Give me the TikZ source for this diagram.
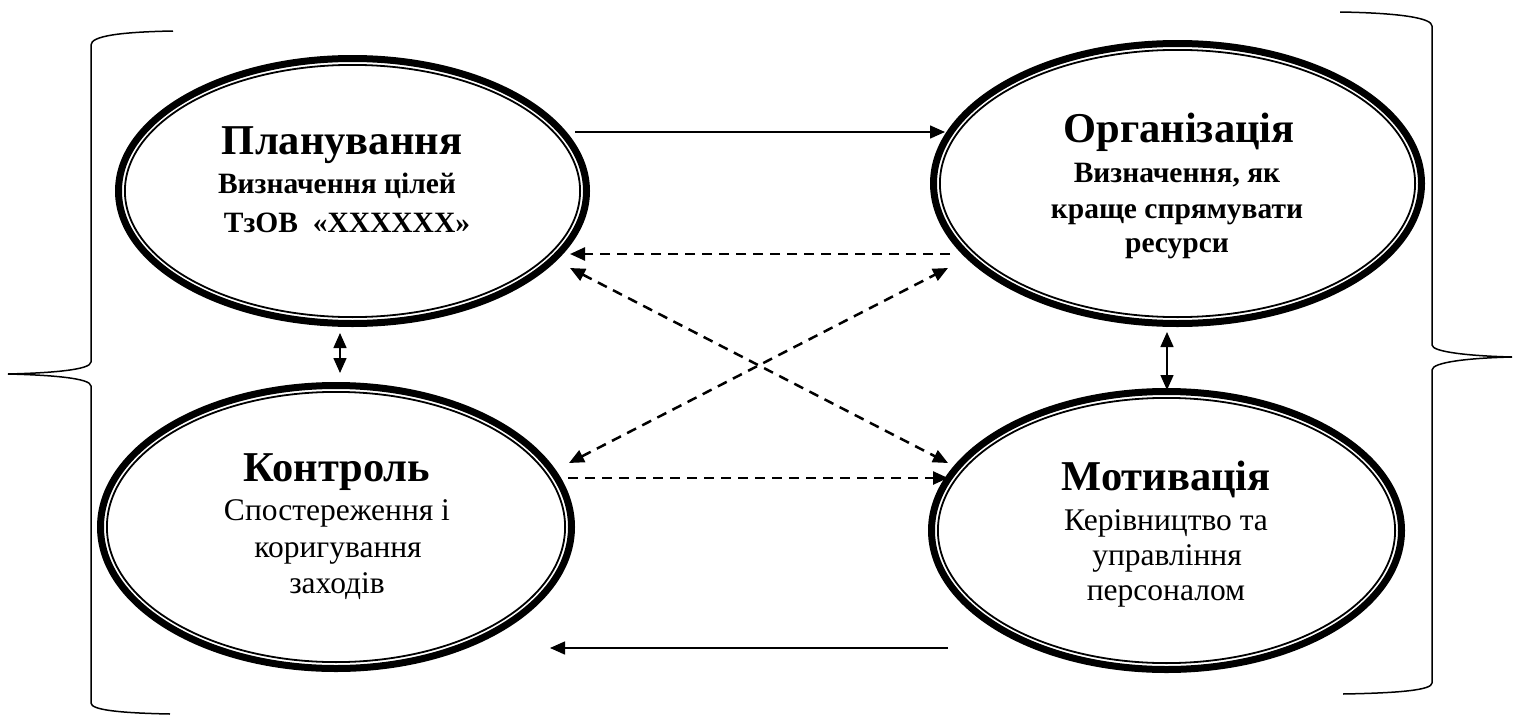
\documentclass[tikz,border=0pt]{standalone}
\usepackage{fontspec}
\setmainfont{Liberation Serif}
\usetikzlibrary{shapes.geometric,arrows.meta}
\begin{document}
\begin{tikzpicture}[x=1pt,y=-1pt,
  oval/.style={ellipse, draw, line width=7pt, inner sep=0pt, fill=white},
  inoval/.style={line width=1.8pt},
  ttl/.style={anchor=base, inner sep=0pt, font=\fontsize{42.5}{46}\selectfont\bfseries},
  subb/.style={anchor=base, inner sep=0pt, font=\fontsize{29.5}{34}\selectfont\bfseries},
  subr/.style={anchor=base, inner sep=0pt, font=\fontsize{31.5}{35}\selectfont},
  tip/.tip={Triangle[length=15pt,width=13pt]},
  solidarr/.style={line width=1.5pt, -tip},
  dasharr/.style={line width=2.5pt, dash pattern=on 10pt off 7pt, -tip},
  dashdbl/.style={line width=2.5pt, dash pattern=on 10pt off 7pt, tip-tip},
  soliddbl/.style={line width=1.5pt, tip-tip},
  brace/.style={line width=1.5pt}
]
\useasboundingbox (0,0) rectangle (1513,720);
\fill[white] (0,0) rectangle (1513,720);

% braces
\draw[brace] (173,31) .. controls (120,32) and (91,36) .. (91,45) -- (91,362)
  .. controls (91,370) and (50,373) .. (8,374) .. controls (50,375) and (91,378) .. (91,386)
  -- (91,703) .. controls (91,710) and (120,713) .. (170,714);
\draw[brace] (1340,12) .. controls (1400,13) and (1432,18) .. (1432,26) -- (1432,345)
  .. controls (1432,352) and (1470,356) .. (1512,357) .. controls (1470,358) and (1432,362) .. (1432,370)
  -- (1432,683) .. controls (1432,690) and (1400,693) .. (1343,694);

% ellipses
\node[oval, minimum width=468pt, minimum height=265pt] (plan) at (352.5,191) {};
\draw[inoval] (plan.center) ellipse [x radius=227.6pt, y radius=126.1pt];
\node[oval, minimum width=488pt, minimum height=280pt] (org) at (1177.5,183.5) {};
\draw[inoval] (org.center) ellipse [x radius=237.6pt, y radius=133.6pt];
\node[oval, minimum width=471pt, minimum height=283pt] (ctrl) at (336,527) {};
\draw[inoval] (ctrl.center) ellipse [x radius=229.1pt, y radius=135.1pt];
\node[oval, minimum width=470pt, minimum height=278pt] (mot) at (1166.5,530.5) {};
\draw[inoval] (mot.center) ellipse [x radius=228.6pt, y radius=132.6pt];

% texts
\node[ttl] (planT) at (342,154) {Планування};
\node[subb] (planA) at (337,193) {Визначення цілей};
\node[subb] (planB) at (347,232) {ТзОВ\ \ «XXXXXX»};

\node[ttl] (orgT) at (1179,142) {Організація};
\node[subb] (orgA) at (1177,182) {Визначення, як};
\node[subb] (orgB) at (1177,218) {краще спрямувати};
\node[subb] (orgC) at (1177,252) {ресурси};

\node[ttl] (ctrlT) at (337,481) {Контроль};
\node[subr] (ctrlA) at (337,520) {Спостереження і};
\node[subr] (ctrlB) at (338,557) {коригування};
\node[subr] (ctrlC) at (337,593) {заходів};

\node[ttl] (motT) at (1166,490) {Мотивація};
\node[subr] (motA) at (1166,530) {Керівництво та};
\node[subr] (motB) at (1167,565) {управління};
\node[subr] (motC) at (1166,600) {персоналом};

% connector end points
\coordinate (p1) at (575,132);  \coordinate (o1) at (945,132);
\coordinate (o2) at (950,254);  \coordinate (p2) at (570,254);
\coordinate (p3) at (570,268);  \coordinate (m3) at (948,463);
\coordinate (c4) at (569,463);  \coordinate (o4) at (948,268);
\coordinate (c5) at (568,478);  \coordinate (m5) at (948,478);
\coordinate (m6) at (948,648);  \coordinate (c6) at (550,648);
\coordinate (p7) at (340,333);  \coordinate (c7) at (340,373);
\coordinate (o8) at (1167,332); \coordinate (m8) at (1167,390);

\draw[solidarr] (p1) -- (o1);
\draw[dasharr] (o2) -- (p2);
\draw[dashdbl] (p3) -- (m3);
\draw[dashdbl] (c4) -- (o4);
\draw[dasharr] (c5) -- (m5);
\draw[solidarr] (m6) -- (c6);
\draw[soliddbl] (p7) -- (c7);
\draw[soliddbl] (o8) -- (m8);
\end{tikzpicture}
\end{document}
